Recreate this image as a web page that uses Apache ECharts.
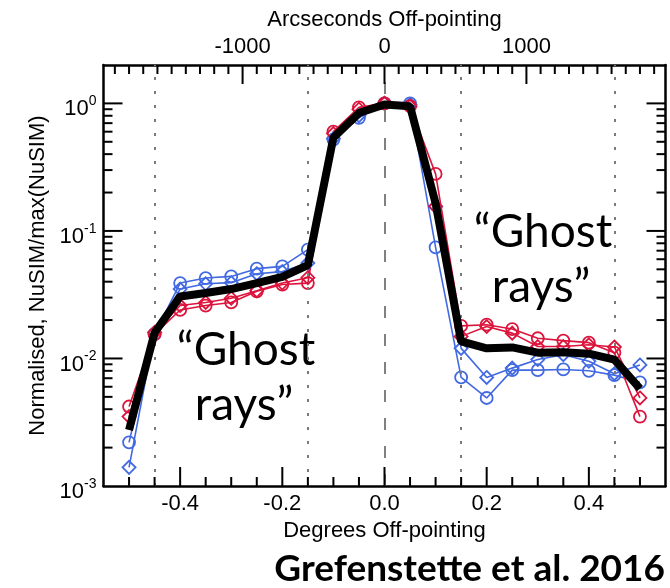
<!DOCTYPE html>
<html><head><meta charset="utf-8">
<script src="https://cdn.jsdelivr.net/npm/echarts@6/dist/echarts.min.js"></script>
<style>html,body{margin:0;padding:0;background:#fff}#c{width:670px;height:588px}</style>
</head><body><div id="c"></div>
<script>
// ---- data ----
const degrees = [-0.5,-0.45,-0.4,-0.35,-0.3,-0.25,-0.2,-0.15,-0.1,-0.05,0,0.05,0.1,0.15,0.2,0.25,0.3,0.35,0.4,0.45,0.5];
const redCircle   = [0.0042,0.0155,0.024,0.026,0.0275,0.0336,0.038,0.039,0.60,0.93,1.0,0.95,0.28,0.018,0.0184,0.017,0.0144,0.0138,0.0133,0.0111,0.0035];
const redDiamond  = [0.0035,0.016,0.026,0.0275,0.0297,0.034,0.039,0.043,0.58,0.90,1.0,0.95,0.156,0.0149,0.0178,0.0158,0.0124,0.0124,0.0128,0.0123,0.0049];
const blueCircle  = [0.0022,0.0155,0.039,0.0427,0.044,0.0506,0.0527,0.0713,0.52,0.77,1.0,1.0,0.0743,0.0071,0.0049,0.0081,0.0081,0.0082,0.008,0.0074,0.0065];
const blueDiamond = [0.0014,0.016,0.035,0.0385,0.0393,0.0462,0.048,0.056,0.53,0.80,1.0,0.98,0.155,0.012,0.0071,0.0084,0.0098,0.0107,0.0095,0.0076,0.0089];
const combined    = [0.00275,0.0159,0.0306,0.0326,0.035,0.0389,0.0437,0.054,0.54,0.84,0.98,0.95,0.165,0.0136,0.012,0.0122,0.0111,0.0112,0.0109,0.0098,0.0058];

// ---- ticks / labels ----
const xMajorTicks = [-0.4,-0.2,0,0.2,0.4];
const xMinorTicks = [-0.5,-0.45,-0.35,-0.3,-0.25,-0.15,-0.1,-0.05,0.05,0.1,0.15,0.25,0.3,0.35,0.45,0.5];
const arcMajorTicks = [-1000,0,1000];
const arcMinorTicks = [-1900,-1800,-1700,-1600,-1500,-1400,-1300,-1200,-1100,-900,-800,-700,-600,-500,-400,-300,-200,-100,
                       100,200,300,400,500,600,700,800,900,1100,1200,1300,1400,1500,1600,1700,1800,1900];
const yMajorTicks = [0.01,0.1,1];
const yLabelValues = [0.001,0.01,0.1,1];
const yMinorTicks = [0.002,0.003,0.004,0.005,0.006,0.007,0.008,0.009,
                     0.02,0.03,0.04,0.05,0.06,0.07,0.08,0.09,
                     0.2,0.3,0.4,0.5,0.6,0.7,0.8,0.9];
const dottedGuides = [-0.45,-0.15,0.15,0.45];
const dashedGuides = [0];

const RED = '#dc143c', BLUE = '#4169e1';
const FONT = 'Liberation Sans';
const MAJOR = 19, MINOR = 9;
function txt() { return {color:'#000', fontSize:22, fontFamily:FONT}; }
function frameLine() { return {show:true, onZero:false, lineStyle:{color:'#000', width:2.5}}; }
function pairs(arr) { return degrees.map((x, i) => [x, arr[i]]); }

function markerSeries(name, arr, color, symbol) {
  return {
    name:name, type:'line', data:pairs(arr), symbol:symbol, symbolSize: symbol === 'diamond' ? 13 : 12,
    lineStyle:{color:color, width:1.6},
    itemStyle:{color:'rgba(255,255,255,0)', borderColor:color, borderWidth:1.8},
    z:3
  };
}

const guideLines = dottedGuides.map(v => ({xAxis:v, lineStyle:{color:'#7a7a7a', width:2, type:[3,11]}}))
  .concat(dashedGuides.map(v => ({xAxis:v, lineStyle:{color:'#808080', width:2, type:[12,16]}})));

const series = [
  Object.assign(markerSeries('blue diamond', blueDiamond, BLUE, 'diamond'), {
    markLine:{silent:true, symbol:['none','none'], label:{show:false}, data:guideLines}
  }),
  markerSeries('blue circle', blueCircle, BLUE, 'circle'),
  markerSeries('red diamond', redDiamond, RED, 'diamond'),
  markerSeries('red circle', redCircle, RED, 'circle'),
  {name:'combined', type:'line', data:pairs(combined), symbol:'none',
   lineStyle:{color:'#000', width:8}, z:5}
];

const annotations = [
  {type:'text', x:246, y:350, style:{text:'“Ghost', font:'46px Lato', fill:'#000', align:'center', verticalAlign:'middle'}},
  {type:'text', x:244, y:405, style:{text:'rays”', font:'46px Lato', fill:'#000', align:'center', verticalAlign:'middle'}},
  {type:'text', x:543, y:232, style:{text:'“Ghost', font:'46px Lato', fill:'#000', align:'center', verticalAlign:'middle'}},
  {type:'text', x:541, y:287, style:{text:'rays”', font:'46px Lato', fill:'#000', align:'center', verticalAlign:'middle'}},
  {type:'text', x:665, y:569, style:{text:'Grefenstette et al. 2016', font:'bold 37px Lato', fill:'#000', align:'right', verticalAlign:'middle'}}
];

const chart = echarts.init(document.getElementById('c'));
chart.setOption({
  animation:false,
  backgroundColor:'#fff',
  grid:{left:103.5, right:4.5, top:65, bottom:102},
  xAxis:[
    {type:'value', position:'bottom', min:-0.55, max:0.55,
     axisLine:frameLine(), axisTick:{show:false}, splitLine:{show:false},
     axisLabel:Object.assign({customValues:xMajorTicks, formatter:v => v.toFixed(1), margin:7}, txt()),
     name:'Degrees Off-pointing', nameLocation:'middle', nameGap:32, nameTextStyle:txt()},
    {type:'value', position:'top', min:-1980, max:1980,
     axisLine:frameLine(), axisTick:{show:false}, splitLine:{show:false},
     axisLabel:Object.assign({customValues:arcMajorTicks, formatter:v => String(v), margin:7}, txt()),
     name:'Arcseconds Off-pointing', nameLocation:'middle', nameGap:33, nameTextStyle:txt()}
  ],
  yAxis:[
    {type:'log', logBase:10, position:'left', min:0.001, max:2,
     axisLine:frameLine(), axisTick:{show:false}, splitLine:{show:false},
     axisLabel:{
       customValues:yLabelValues, margin:7,
       formatter: v => '{b|10}{s|' + Math.round(Math.log10(v)) + '}',
       rich:{
         b:{fontSize:22, fontFamily:FONT, color:'#000', verticalAlign:'bottom'},
         s:{fontSize:14, fontFamily:FONT, color:'#000', verticalAlign:'top', padding:[0,0,12,0]}
       },
       padding:[8,0,0,0]
     },
     name:'Normalised, NuSIM/max(NuSIM)', nameLocation:'middle', nameGap:51, nameTextStyle:txt()},
    {type:'log', logBase:10, position:'right', min:0.001, max:2,
     axisLine:frameLine(), axisTick:{show:false}, axisLabel:{show:false}, splitLine:{show:false}}
  ],
  series: series
});

// ---- tick marks: positions taken from the chart's own axis scales ----
function xPix(axisIdx, v) { return chart.convertToPixel({xAxisIndex:axisIdx}, v); }
function yPix(v) { return chart.convertToPixel({yAxisIndex:0}, v); }
const gLeft = xPix(0, -0.55), gRight = xPix(0, 0.55);
const gBottom = yPix(0.001), gTop = yPix(2);
function tickLine(x1, y1, x2, y2) {
  return {type:'line', silent:true, z:100, shape:{x1:x1, y1:y1, x2:x2, y2:y2}, style:{stroke:'#000', lineWidth:2}};
}
const ticks = [];
xMajorTicks.forEach(v => { const x = xPix(0, v); ticks.push(tickLine(x, gBottom, x, gBottom - MAJOR)); });
xMinorTicks.forEach(v => { const x = xPix(0, v); ticks.push(tickLine(x, gBottom, x, gBottom - MINOR)); });
arcMajorTicks.forEach(v => { const x = xPix(1, v); ticks.push(tickLine(x, gTop, x, gTop + MAJOR)); });
arcMinorTicks.forEach(v => { const x = xPix(1, v); ticks.push(tickLine(x, gTop, x, gTop + MINOR)); });
yMajorTicks.forEach(v => { const y = yPix(v); ticks.push(tickLine(gLeft, y, gLeft + MAJOR, y), tickLine(gRight, y, gRight - MAJOR, y)); });
yMinorTicks.forEach(v => { const y = yPix(v); ticks.push(tickLine(gLeft, y, gLeft + MINOR, y), tickLine(gRight, y, gRight - MINOR, y)); });

chart.setOption({graphic: annotations.concat(ticks)});
chart.getZr().refreshImmediately();
</script></body></html>
